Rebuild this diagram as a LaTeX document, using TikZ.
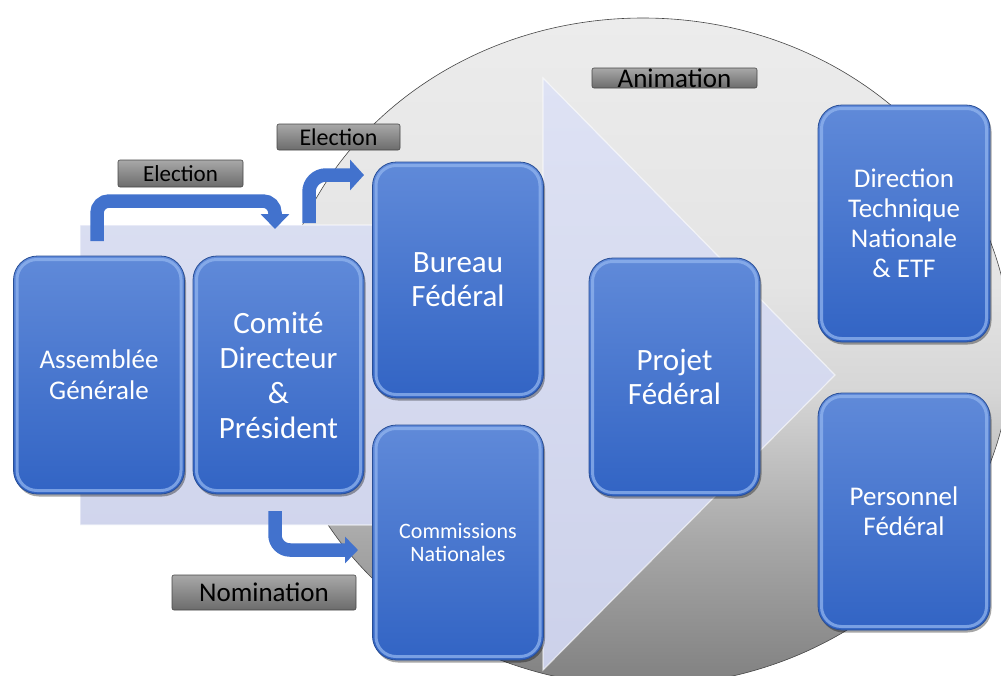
\documentclass[tikz,border=0pt]{standalone}
\usepackage{fontspec}
\setmainfont{Carlito}
\usetikzlibrary{arrows.meta,shadows}
\definecolor{ellA}{RGB}{128,128,128}
\definecolor{ellB}{RGB}{168,168,168}
\definecolor{ellC}{RGB}{214,214,214}
\definecolor{ellD}{RGB}{228,228,228}
\definecolor{ellE}{RGB}{236,236,236}
\definecolor{elledge}{RGB}{70,70,70}
\definecolor{boxtop}{RGB}{96,138,217}
\definecolor{boxbot}{RGB}{50,100,196}
\definecolor{boxedge}{RGB}{40,78,150}
\definecolor{bevelcol}{RGB}{145,180,238}
\definecolor{labtop}{RGB}{168,168,168}
\definecolor{labbot}{RGB}{108,108,108}
\definecolor{labedge}{RGB}{70,70,70}
\definecolor{arrcol}{RGB}{66,114,205}
\definecolor{bandtop}{RGB}{222,226,244}
\definecolor{bandbot}{RGB}{204,209,234}
\pgfdeclareverticalshading{ellshade}{100bp}{color(0bp)=(ellA); color(25bp)=(ellA); color(36bp)=(ellB); color(47bp)=(ellC); color(55bp)=(ellD); color(75bp)=(ellE); color(100bp)=(ellE)}
\begin{document}
\begin{tikzpicture}[x=1pt,y=-1pt,
  box/.style={draw=boxedge, line width=0.8pt, top color=boxtop, bottom color=boxbot,
    rounded corners=24pt, minimum width=171pt, minimum height=238pt, inner sep=0pt,
    align=center, text=white,
    drop shadow={shadow xshift=1.5pt, shadow yshift=-2.5pt, opacity=0.35, fill=black},
    path picture={\draw[bevelcol, line width=3pt, opacity=0.75, rounded corners=20pt]
      ([shift={(3.5pt,-3.5pt)}]path picture bounding box.north west) rectangle
      ([shift={(-3.5pt,3.5pt)}]path picture bounding box.south east);}},
  lab/.style={draw=labedge, line width=0.6pt, top color=labtop, bottom color=labbot,
    rounded corners=2pt, inner sep=0pt, text=black},
  arr/.style={draw=arrcol, line width=13.5pt, rounded corners=#1},
  arr/.default=14pt
]
\useasboundingbox (0,0) rectangle (1001,675);
\clip (0,0) rectangle (1001,675);
% background ellipse
\path[shading=ellshade, draw=elledge, line width=0.6pt] (643,352) ellipse [x radius=368, y radius=334];
% process band arrow
\path[top color=bandtop, bottom color=bandbot, draw=white, draw opacity=0.6, line width=1.2pt]
  (80,225) -- (543,225) -- (543,78) -- (835,375) -- (543,670) -- (543,525) -- (80,525) -- cycle;
% boxes
\node[box, font=\fontsize{27}{31}\selectfont] (ag) at (99,375) {Assembl\'ee\\G\'en\'erale};
\node[box, font=\fontsize{31}{35}\selectfont] (cd) at (278.5,375) {Comit\'e\\Directeur\\\&\\Pr\'esident};
\node[box, minimum height=236pt, font=\fontsize{31}{34}\selectfont] (bf) at (458,280) {Bureau\\F\'ed\'eral};
\node[box, minimum height=235pt, font=\fontsize{22}{23}\selectfont] (cn) at (458,542.5) {Commissions\\Nationales};
\node[box, font=\fontsize{31}{34}\selectfont] (pf) at (674.5,377) {Projet\\F\'ed\'eral};
\node[box, minimum width=172pt, minimum height=237pt, font=\fontsize{27}{30}\selectfont] (dtn) at (904,223.5) {Direction\\Technique\\Nationale\\\& ETF};
\node[box, minimum width=172pt, minimum height=237pt, font=\fontsize{27}{30}\selectfont] (pers) at (904,511.5) {Personnel\\F\'ed\'eral};
% labels
\node[lab, minimum width=125pt, minimum height=27pt, font=\fontsize{23}{26}\selectfont] (el1) at (180.5,173.5) {Election};
\node[lab, minimum width=123pt, minimum height=26pt, font=\fontsize{24}{27}\selectfont] (el2) at (338.5,137) {Election};
\node[lab, minimum width=165pt, minimum height=20pt, font=\fontsize{27}{30}\selectfont] (anim) at (674.5,78) {Animation};
\node[lab, minimum width=184pt, minimum height=35pt, font=\fontsize{27}{30}\selectfont] (nom) at (264,592.5) {Nomination};
% connector end points
\coordinate (a1s) at (97,241);
\coordinate (a1e) at (275,229);
\coordinate (a2s) at (309,223);
\coordinate (a2e) at (364,175);
\coordinate (a3s) at (275,511);
\coordinate (a3e) at (358,550);
% connectors
\draw[arr=12pt, -{Triangle[width=28pt,length=15pt]}] (a1s) -- (a1s |- 0,201) -- (a1e |- 0,201) -- (a1e);
\draw[arr=17pt, -{Triangle[width=30pt,length=14pt]}] (a2s) -- (a2s |- a2e) -- (a2e);
\draw[arr=15pt, -{Triangle[width=26pt,length=13pt]}] (a3s) -- (a3s |- a3e) -- (a3e);
\end{tikzpicture}
\end{document}
